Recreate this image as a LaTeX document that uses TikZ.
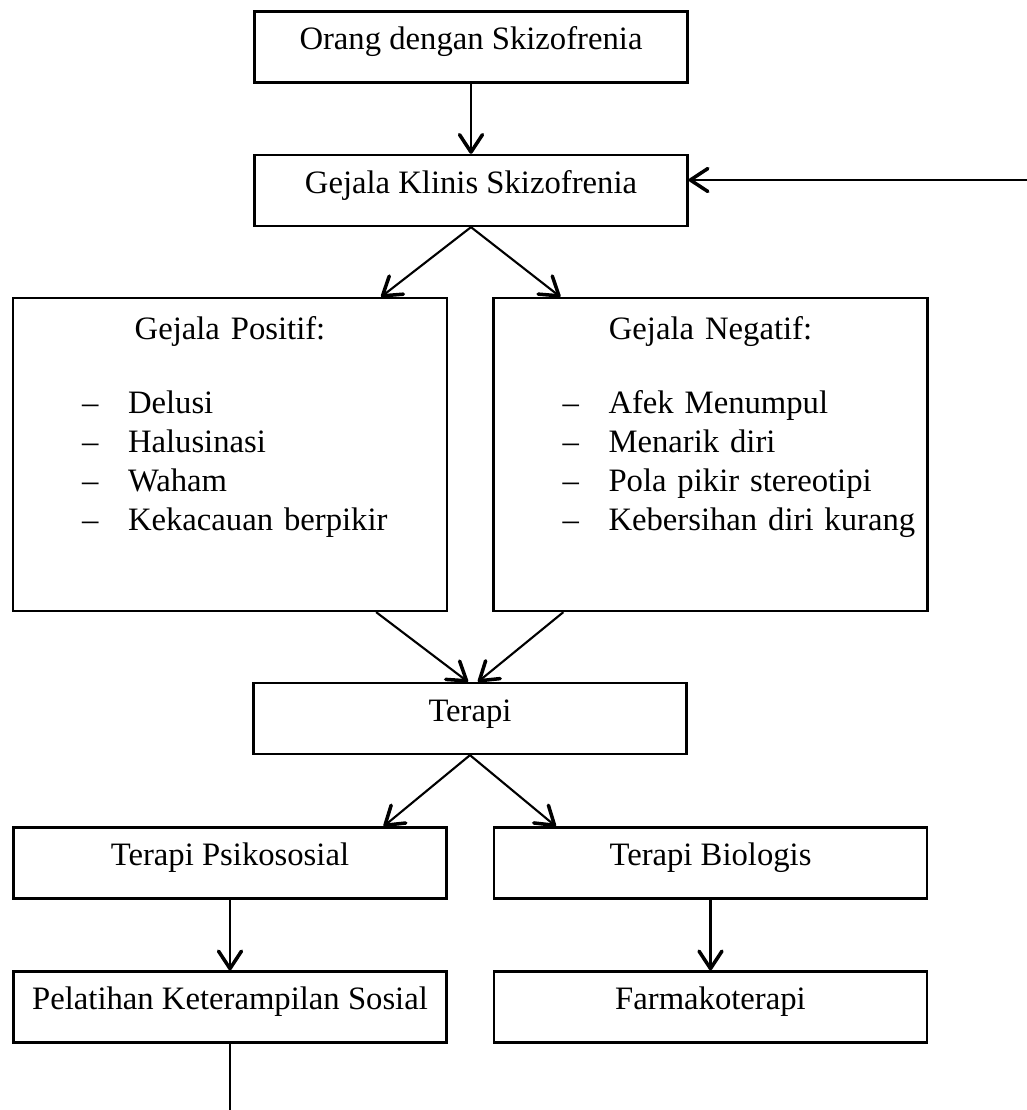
\documentclass[tikz,border=0pt]{standalone}
\usepackage{fontspec}
\setmainfont{Liberation Serif}
\usetikzlibrary{arrows.meta}

% one item of a symptom list: dash, then the text
\newcommand{\butir}[1]{\hspace*{1.38cm}\makebox[0.92cm][l]{--}#1}

\begin{document}
\begin{tikzpicture}[x=0.02cm, y=-0.02cm,
    kotak/.style={draw, line width=1.3pt, inner sep=0pt, minimum width=8.66cm,
        text height=0.76cm, text depth=0.66cm,
        font=\fontsize{18.6}{22.2}\selectfont},
    gejala/.style={draw, line width=1.3pt, inner sep=0pt, text width=8.68cm,
        align=left, text height=0.82cm, text depth=5.44cm,
        font=\fontsize{18.6}{22.2}\selectfont},
    panah/.style={line width=1.2pt,
        -{Straight Barb[length=3.5mm, width=4.6mm, line width=2pt, round]}}]

    % Page frame, cut at the edges like the original
    \useasboundingbox (0,0) rectangle (1027,1110);
    \clip (0,0) rectangle (1027,1110);

    % Centres of the boxes, column by column
    \coordinate (O) at (471,47);
    \coordinate (K) at (471,190.5);
    \coordinate (P) at (230,454.5);
    \coordinate (N) at (710.5,454.5);
    \coordinate (T) at (470,718.5);
    \coordinate (S) at (230,863);
    \coordinate (B) at (710.5,863);
    \coordinate (L) at (230,1007);
    \coordinate (F) at (710.5,1007);

    % Top of the chart
    \node[kotak] (orang) at (O) {Orang dengan Skizofrenia};
    \node[kotak] (klinis) at (K) {Gejala Klinis Skizofrenia};

    % The two groups of symptoms
    \node[gejala] (positif) at (P) {\makebox[8.68cm]{Gejala Positif:}\\[0.7cm]
        \butir{Delusi}\\
        \butir{Halusinasi}\\
        \butir{Waham}\\
        \butir{Kekacauan berpikir}};
    \node[gejala] (negatif) at (N) {\makebox[8.68cm]{Gejala Negatif:}\\[0.7cm]
        \butir{Afek Menumpul}\\
        \butir{Menarik diri}\\
        \butir{Pola pikir stereotipi}\\
        \butir{Kebersihan diri kurang}};

    % Therapy and its two branches
    \node[kotak] (terapi) at (T) {Terapi};
    \node[kotak] (psiko) at (S) {Terapi Psikososial};
    \node[kotak] (bio) at (B) {Terapi Biologis};
    \node[kotak] (pelatihan) at (L) {Pelatihan Keterampilan Sosial};
    \node[kotak] (farmako) at (F) {Farmakoterapi};

    % Arrows down the chart
    \draw[panah] (orang) -- (klinis);
    \draw[panah] (klinis.south) -- ([xshift=-1.34cm]positif.north east);
    \draw[panah] (klinis.south) -- ([xshift=1.36cm]negatif.north west);
    \draw[panah] ([xshift=-1.44cm]positif.south east) -- ([xshift=-0.04cm]terapi.north);
    \draw[panah] ([xshift=1.42cm]negatif.south west) -- ([xshift=0.16cm]terapi.north);
    \draw[panah] (terapi.south) -- ([xshift=-1.28cm]psiko.north east);
    \draw[panah] (terapi.south) -- ([xshift=1.26cm]bio.north west);
    \draw[panah] (psiko) -- (pelatihan);
    \draw[panah] (bio) -- (farmako);

    % Feedback line from the training back to the symptoms
    \coordinate (bawah) at (1040,1130);
    \coordinate (kanan) at (1040,180);
    \draw[panah] (pelatihan.south) |- (bawah) -- (kanan) -- (klinis.east |- kanan);

\end{tikzpicture}
\end{document}
